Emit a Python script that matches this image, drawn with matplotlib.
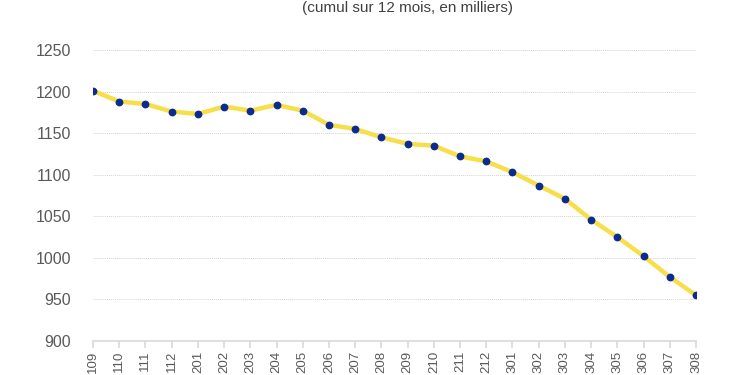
import matplotlib
matplotlib.use("Agg")
import matplotlib.pyplot as plt

categories = ["109", "110", "111", "112", "201", "202", "203", "204", "205", "206",
              "207", "208", "209", "210", "211", "212", "301", "302", "303", "304",
              "305", "306", "307", "308"]
values = [1201, 1188, 1185, 1176, 1173, 1182, 1177, 1184, 1177, 1160,
          1155, 1145, 1137, 1135, 1122, 1116, 1103, 1087, 1071, 1046,
          1025, 1002, 977, 955]
yticks = [900, 950, 1000, 1050, 1100, 1150, 1200, 1250]
title = "(cumul sur 12 mois, en milliers)"

plt.rcParams['font.family'] = ['Liberation Sans', 'DejaVu Sans']

fig = plt.figure(figsize=(7.5, 3.75), dpi=100)
ax = fig.add_axes([0.124, 0.0907, 0.804, 0.776])

x = list(range(len(categories)))
ax.plot(x, values, color="#F7DE4A", linewidth=3.2, zorder=3, solid_joinstyle="round")
ax.plot(x, values, linestyle="none", marker="o", markersize=4.6,
        markerfacecolor="#0B2B8F", markeredgecolor="#0B2B8F", zorder=4)

ax.set_xlim(0, len(categories) - 1)
ax.set_ylim(900, 1250)
ax.set_yticks(yticks)
ax.set_yticklabels([str(v) for v in yticks], fontsize=11.5, color="#595959")
ax.set_xticks(x)
ax.set_xticklabels(categories, rotation=90, fontsize=9.5, color="#595959")

ax.grid(axis="y", color="#D4D4D4", linestyle=(0, (1, 1)), linewidth=0.7)
ax.set_axisbelow(True)
for s in ["top", "right", "left"]:
    ax.spines[s].set_visible(False)
ax.spines["bottom"].set_color("#D9D9D9")
ax.spines["bottom"].set_linewidth(1.2)
ax.tick_params(axis="y", length=0, pad=16)
ax.tick_params(axis="x", length=5, color="#D9D9D9", width=1.2, pad=2)

fig.text(0.543, 0.978, title, ha="center", va="center", fontsize=11, color="#404040")

fig.savefig("out.png", dpi=100)
